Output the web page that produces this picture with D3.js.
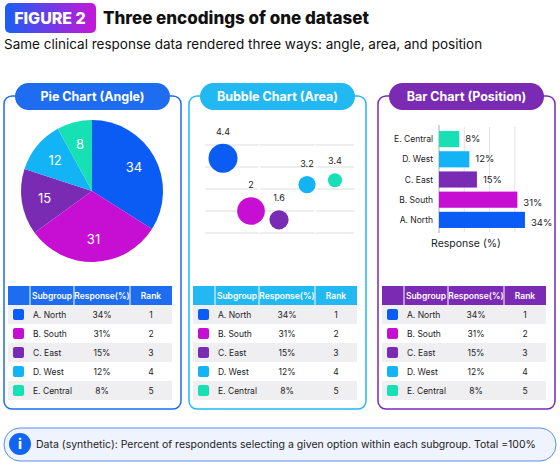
<!DOCTYPE html><html><head><meta charset="utf-8"><script src="https://d3js.org/d3.v7.min.js"></script>
<style>body{margin:0;background:#fff}svg{font-family:Inter,"Open Sans",sans-serif}</style></head><body><svg id="c" width="560" height="467"></svg>
<script>
const groups=["A. North","B. South","C. East","D. West","E. Central"];
const values=[34,31,15,12,8];
const ranks=[1,2,3,4,5];
const bubbleY=[4.4,2,1.6,3.2,3.4];
const bubbleX=[1,2,3,4,5];
const barTicks=[0,10,20,30];
const colors=["#0b5cf4","#c60fd2","#7a2bb3","#12b4f6","#16e0b4"];
const svg=d3.select("#c");
const defs=svg.append("defs");
const g=defs.append("linearGradient").attr("id","gr");
g.append("stop").attr("offset","0").attr("stop-color","#1a5ef5");
g.append("stop").attr("offset","1").attr("stop-color","#c517d6");
svg.append("rect").attr("x",5).attr("y",3).attr("width",91).attr("height",30).attr("rx",5).attr("fill","url(#gr)");
svg.append("text").attr("x",50).attr("y",24).attr("text-anchor","middle").attr("fill","#fff").attr("font-weight",800).attr("font-size",16).text("FIGURE 2");
svg.append("text").attr("x",103).attr("y",24).attr("font-weight",800).attr("font-size",17).attr("fill","#111").text("Three encodings of one dataset");
svg.append("text").attr("x",4).attr("y",49).attr("font-size",13.5).attr("fill","#111").text("Same clinical response data rendered three ways: angle, area, and position");

const panels=[{x:4,c:"#1e6cf0",t:"Pie Chart (Angle)"},{x:189,c:"#22b9f2",t:"Bubble Chart (Area)"},{x:378,c:"#7b2ab3",t:"Bar Chart (Position)"}];
panels.forEach(p=>{
  svg.append("rect").attr("x",p.x).attr("y",96).attr("width",177).attr("height",313).attr("rx",8).attr("fill","#fff").attr("stroke",p.c).attr("stroke-width",1.5);
  svg.append("rect").attr("x",p.x+11).attr("y",83).attr("width",155).attr("height",27).attr("rx",13.5).attr("fill",p.c);
  svg.append("text").attr("x",p.x+88.5).attr("y",101).attr("text-anchor","middle").attr("fill","#fff").attr("font-weight",700).attr("font-size",12.5).text(p.t);
  // table
  const tx=p.x+4, ty=286;
  const cols=[0,22,66,122,164];
  const hd=svg.append("g");
  hd.append("rect").attr("x",tx).attr("y",ty).attr("width",164).attr("height",19).attr("fill",p.c);
  [1,2,3].forEach(i=>hd.append("line").attr("x1",tx+cols[i]).attr("x2",tx+cols[i]).attr("y1",ty).attr("y2",ty+19).attr("stroke","#fff"));
  ["Subgroup","Response(%)","Rank"].forEach((h,i)=>hd.append("text").attr("x",tx+(cols[i+1]+cols[i+2])/2).attr("y",ty+13).attr("text-anchor","middle").attr("fill","#fff").attr("font-size",8.5).attr("font-weight",600).text(h));
  groups.forEach((gname,i)=>{
    const y=ty+19+i*19;
    svg.append("rect").attr("x",tx).attr("y",y).attr("width",164).attr("height",19).attr("fill",i%2==0?"#efeff2":"#fff");
    svg.append("rect").attr("x",tx+5).attr("y",y+4).attr("width",11).attr("height",11).attr("rx",2).attr("fill",colors[i]);
    svg.append("text").attr("x",tx+cols[1]+3).attr("y",y+13).attr("font-size",8.5).attr("fill","#222").text(gname);
    svg.append("text").attr("x",tx+(cols[2]+cols[3])/2).attr("y",y+13).attr("text-anchor","middle").attr("font-size",8.5).attr("fill","#222").text(values[i]+"%");
    svg.append("text").attr("x",tx+(cols[3]+cols[4])/2).attr("y",y+13).attr("text-anchor","middle").attr("font-size",8.5).attr("fill","#222").text(ranks[i]);
  });
});

// pie
const pie=d3.pie().sort(null)(values);
const arc=d3.arc().innerRadius(0).outerRadius(71);
const lab=d3.arc().innerRadius(48).outerRadius(48);
const pg=svg.append("g").attr("transform","translate(92,191)");
pg.selectAll("path").data(pie).join("path").attr("d",arc).attr("fill",(d,i)=>colors[i]);
pg.selectAll("text").data(pie).join("text").attr("transform",d=>`translate(${lab.centroid(d)})`).attr("text-anchor","middle").attr("dy","0.35em").attr("fill","#fff").attr("font-size",13).text(d=>d.data);

// bubble
const bx=d3.scaleLinear().domain([0,6]).range([195,363]);
const by=d3.scaleLinear().domain([0,5]).range([255,145]);
const br=d3.scaleSqrt().domain([0,34]).range([0,14.5]);
const bg=svg.append("g");
bg.selectAll("line.h").data([1,2,3,4,5]).join("line").attr("x1",205).attr("x2",354).attr("y1",d=>by(d)).attr("y2",d=>by(d)).attr("stroke","#ddd").attr("stroke-width",1.2);
bg.selectAll("line.v").data([2.3,4.3]).join("line").attr("y1",by(5)).attr("y2",by(1)).attr("x1",d=>bx(d)).attr("x2",d=>bx(d)).attr("stroke","#fff").attr("stroke-width",2);
bg.selectAll("circle").data(values).join("circle").attr("cx",(d,i)=>bx(bubbleX[i])).attr("cy",(d,i)=>by(bubbleY[i])).attr("r",d=>br(d)).attr("fill",(d,i)=>colors[i]);
bg.selectAll("text").data(values).join("text").attr("x",(d,i)=>bx(bubbleX[i])).attr("y",(d,i)=>by(bubbleY[i])-br(d)-9).attr("text-anchor","middle").attr("font-size",9).attr("fill","#222").text((d,i)=>bubbleY[i]);

// bar
const xs=d3.scaleLinear().domain([0,36]).range([439,530]);
const ys=d3.scaleBand().domain(groups.slice().reverse()).range([127,232]).padding(0.2);
const bar=svg.append("g");
bar.selectAll("line").data(barTicks.slice(1)).join("line").attr("x1",d=>xs(d)).attr("x2",d=>xs(d)).attr("y1",127).attr("y2",232).attr("stroke","#e3e3e3");
bar.append("line").attr("x1",439).attr("x2",439).attr("y1",125).attr("y2",233).attr("stroke","#aaa");
groups.forEach((gname,i)=>{
  bar.append("rect").attr("x",xs(0)).attr("y",ys(gname)).attr("width",xs(values[i])-xs(0)).attr("height",ys.bandwidth()).attr("fill",colors[i]);
  bar.append("text").attr("x",xs(values[i])+6).attr("y",ys(gname)+ys.bandwidth()/2+(i<2?6:3)).attr("font-size",9.5).attr("fill","#222").text(values[i]+"%");
  bar.append("text").attr("x",433).attr("y",ys(gname)+ys.bandwidth()/2+3).attr("text-anchor","end").attr("font-size",8.5).attr("fill","#222").text(gname);
});
svg.append("text").attr("x",466).attr("y",247).attr("text-anchor","middle").attr("font-size",10.5).attr("fill","#222").text("Response (%)");

// footer
svg.append("rect").attr("x",4).attr("y",428).attr("width",552).attr("height",33).attr("rx",16).attr("fill","#eef3fd").attr("stroke","#5b8fef");
svg.append("circle").attr("cx",20).attr("cy",444).attr("r",11).attr("fill","#1264f2");
svg.append("text").attr("x",20).attr("y",449).attr("text-anchor","middle").attr("fill","#fff").attr("font-weight",800).attr("font-size",14).text("i");
svg.append("text").attr("x",36).attr("y",448).attr("font-size",10.5).attr("fill","#222").text("Data (synthetic): Percent of respondents selecting a given option within each subgroup. Total =100%");
</script></body></html>
